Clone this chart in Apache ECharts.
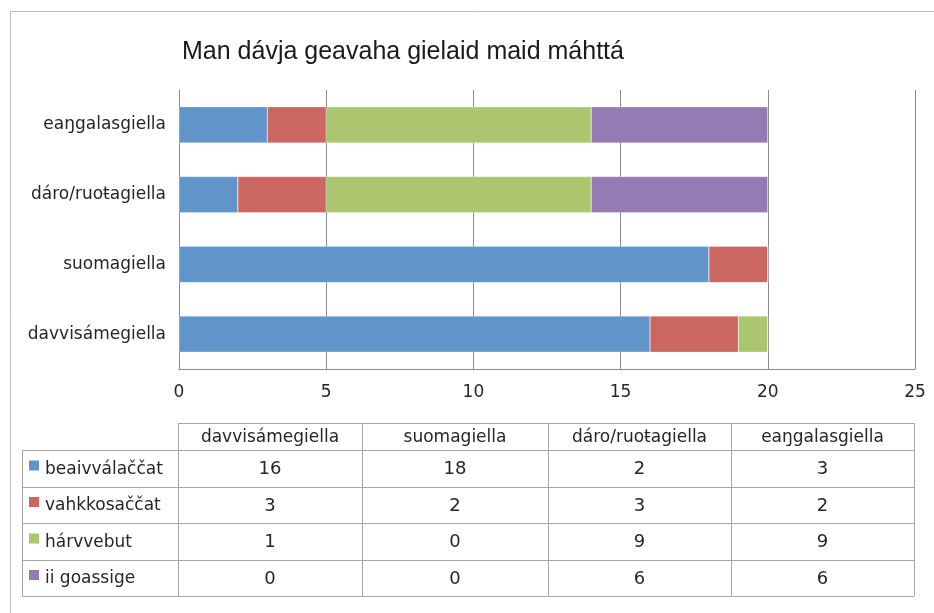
<!DOCTYPE html>
<html>
<head>
<meta charset="utf-8">
<script src="https://cdn.jsdelivr.net/npm/echarts@6/dist/echarts.min.js"></script>
<style>
  html, body { margin: 0; padding: 0; background: #fff; }
  #main { width: 934px; height: 613px; }
</style>
</head>
<body>
<div id="main"></div>
<script>
var categories = ['davvisámegiella', 'suomagiella', 'dáro/ruoŧagiella', 'eaŋgalasgiella'];
var seriesNames = ['beaivválaččat', 'vahkkosaččat', 'hárvvebut', 'ii goassige'];
var beaivvalaccat = [16, 18, 2, 3];
var vahkkosaccat = [3, 2, 3, 2];
var harvvebut = [1, 0, 9, 9];
var iiGoassige = [0, 0, 6, 6];
var xTicks = [0, 5, 10, 15, 20, 25];

var colors = ['#6194C9', '#CC6661', '#ACC56F', '#957BB3'];
var allValues = [beaivvalaccat, vahkkosaccat, harvvebut, iiGoassige];
var font = '"DejaVu Sans", Verdana, sans-serif';
var titleFont = '"Liberation Sans", Arial, sans-serif';
var textColor = '#262626';

var myChart = echarts.init(document.getElementById('main'));

// data table below the chart
var colX = [178, 362, 548, 731, 914];
var legendX = 22;
var headTop = 423, headBottom = 450;
var rowY = [450, 487, 523, 560, 596];
var lineStyle = { stroke: '#a6a6a6', lineWidth: 1 };
var graphics = [];

// outer frame
graphics.push({ type: 'rect', shape: { x: 10.5, y: 11.5, width: 1000, height: 700 },
  style: { fill: null, stroke: '#bfbfbf', lineWidth: 1 }, silent: true });

function hline(x1, x2, y) {
  graphics.push({ type: 'line', shape: { x1: x1, y1: y + 0.5, x2: x2, y2: y + 0.5 }, style: lineStyle, silent: true });
}
function vline(x, y1, y2) {
  graphics.push({ type: 'line', shape: { x1: x + 0.5, y1: y1, x2: x + 0.5, y2: y2 }, style: lineStyle, silent: true });
}

hline(colX[0], colX[4], headTop);
for (var r = 0; r < rowY.length; r++) hline(legendX, colX[4], rowY[r]);
vline(legendX, rowY[0], rowY[rowY.length - 1]);
for (var c = 0; c < colX.length; c++) vline(colX[c], headTop, rowY[rowY.length - 1]);

for (var c = 0; c < categories.length; c++) {
  graphics.push({ type: 'text', x: (colX[c] + colX[c + 1]) / 2, y: (headTop + headBottom) / 2 + 1,
    style: { text: categories[c], font: '17px ' + font, fill: textColor, align: 'center', verticalAlign: 'middle' }, silent: true });
}
for (var s = 0; s < seriesNames.length; s++) {
  var cy = (rowY[s] + rowY[s + 1]) / 2;
  graphics.push({ type: 'rect', shape: { x: 29, y: cy - 8, width: 10, height: 10 },
    style: { fill: colors[s] }, silent: true });
  graphics.push({ type: 'text', x: 45, y: cy + 1,
    style: { text: seriesNames[s], font: '17px ' + font, fill: textColor, align: 'left', verticalAlign: 'middle' }, silent: true });
  for (var c = 0; c < categories.length; c++) {
    graphics.push({ type: 'text', x: (colX[c] + colX[c + 1]) / 2, y: cy + 1,
      style: { text: String(allValues[s][c]), font: '18px ' + font, fill: textColor, align: 'center', verticalAlign: 'middle' }, silent: true });
  }
}

var series = [];
for (var s = 0; s < seriesNames.length; s++) {
  series.push({
    name: seriesNames[s],
    type: 'bar',
    stack: 'total',
    barCategoryGap: '48%',
    data: allValues[s],
    itemStyle: { color: colors[s], borderColor: 'rgba(255,255,255,0.5)', borderWidth: 0.5 }
  });
}

var option = {
  animation: false,
  backgroundColor: '#fff',
  title: {
    text: 'Man dávja geavaha gielaid maid máhttá',
    left: 177,
    top: 35,
    textStyle: { fontFamily: titleFont, fontSize: 25, fontWeight: 'normal', color: '#1a1a1a' }
  },
  grid: { left: 179, right: 19, top: 90, bottom: 244, containLabel: false },
  xAxis: {
    type: 'value',
    min: 0,
    max: 25,
    interval: 5,
    axisLine: { show: true, lineStyle: { color: '#8c8c8c' } },
    axisTick: { show: false },
    axisLabel: { margin: 15, fontSize: 17, fontFamily: font, color: textColor,
      formatter: function (v) { return xTicks.indexOf(v) >= 0 ? String(v) : ''; } },
    splitLine: { show: true, lineStyle: { color: '#8c8c8c' } }
  },
  yAxis: {
    type: 'category',
    data: categories,
    axisLine: { show: true, lineStyle: { color: '#8c8c8c' } },
    axisTick: { show: false },
    axisLabel: { margin: 13, fontSize: 17, fontFamily: font, color: textColor }
  },
  series: series,
  graphic: graphics
};

myChart.setOption(option);
</script>
</body>
</html>
